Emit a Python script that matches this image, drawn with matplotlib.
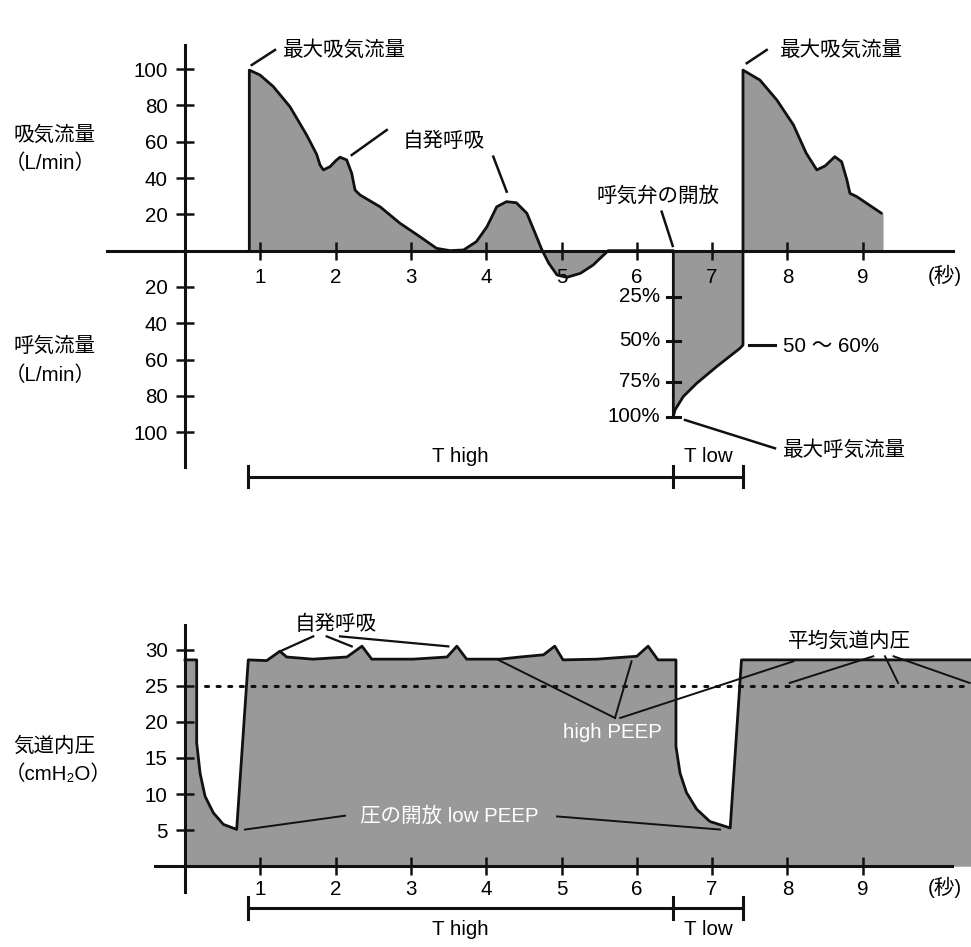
import matplotlib
matplotlib.use('Agg')
import matplotlib.pyplot as plt

plt.rcParams['font.family'] = ['Liberation Sans', 'Noto Sans CJK JP', 'DejaVu Sans']

FS = 14.8
GRAY = '#999999'
INK = '#111111'

# ---- upper chart: flow (L/min) against time (s); expiration is negative
flow_t = [0.854, 0.854, 0.996, 1.173, 1.394, 1.616, 1.749, 1.793, 1.837, 1.926, 2.00, 2.058,
          2.147, 2.214, 2.258, 2.324, 2.59, 2.855, 3.12, 3.34, 3.52, 3.70, 3.87, 4.01, 4.14,
          4.27, 4.40, 4.54, 4.65, 4.74, 4.83, 4.94, 5.07, 5.25, 5.42, 5.62, 6.485,
          6.485, 6.507, 6.617, 6.795, 7.06, 7.37, 7.41,
          7.41, 7.635, 7.86, 8.08, 8.25, 8.39, 8.50, 8.63, 8.72, 8.79, 8.83, 8.92, 9.25]
flow_v = [0, 99.5, 96.8, 90.4, 79.3, 63.7, 53.0, 47.2, 44.5, 46.3, 49.5, 51.5,
          50.0, 42.6, 33.4, 30.7, 24.2, 15.1, 7.7, 1.3, 0.0, 0.4, 5.0, 13.2, 24.2,
          27.0, 26.4, 20.6, 9.6, 0.4, -6.9, -13.4, -14.7, -12.5, -7.9, 0, 0,
          -91.5, -87.8, -80.4, -73.1, -63.9, -53.8, -52.0,
          99.5, 94.0, 83.0, 69.3, 53.7, 44.5, 46.7, 51.8, 49.0, 39.0, 31.6, 29.8, 20.6]
flow_ticks = [100, 80, 60, 40, 20, -20, -40, -60, -80, -100]
time_ticks = [1, 2, 3, 4, 5, 6, 7, 8, 9]

# percentage scale of the expiratory flow at the valve opening
pct_labels = ['25%', '50%', '75%', '100%']
pct_flow = [-25.3, -49.6, -72.2, -91.5]
valve_open_t = 6.485

# ---- lower chart: airway pressure (cmH2O)
pres_t = [0, 0.155, 0.155, 0.20, 0.266, 0.376, 0.509, 0.686, 0.84,
          1.085, 1.26, 1.35, 1.70, 2.15, 2.35, 2.48, 3.03, 3.48, 3.61, 3.74,
          3.92, 4.18, 4.45, 4.76, 4.91, 5.02, 5.47, 6.00, 6.15, 6.28, 6.52,
          6.52, 6.574, 6.66, 6.795, 6.97, 7.24, 7.39, 10.44]
pres_v = [28.6, 28.6, 17.1, 12.9, 9.7, 7.4, 5.8, 5.1, 28.6,
          28.5, 29.8, 29.0, 28.7, 29.0, 30.5, 28.7, 28.7, 29.0, 30.5, 28.7,
          28.7, 28.7, 29.0, 29.3, 30.5, 28.6, 28.7, 29.1, 30.5, 28.6, 28.6,
          16.6, 12.9, 10.2, 7.9, 6.2, 5.3, 28.6, 28.6]
mean_pres = 25
mean_start = 0.27
pres_ticks = [30, 25, 20, 15, 10, 5]

t_high = (0.837, 6.48)
t_low = (6.48, 7.41)

fig = plt.figure(figsize=(9.71, 9.47), dpi=100)


def style_axes(ax, xb, yb, xpad, ypad):
    for s in ['top', 'right']:
        ax.spines[s].set_visible(False)
    ax.spines['left'].set_position(('data', 0))
    ax.spines['bottom'].set_position(('data', 0))
    ax.spines['left'].set_bounds(*yb)
    ax.spines['bottom'].set_bounds(*xb)
    for s in ['left', 'bottom']:
        ax.spines[s].set_linewidth(2.2)
        ax.spines[s].set_color(INK)
        ax.spines[s].set_zorder(4)
    ax.tick_params(axis='both', direction='inout', length=13, width=1.8,
                   color=INK, labelsize=FS)
    ax.tick_params(axis='x', pad=xpad)
    ax.tick_params(axis='y', pad=ypad)
    ax.set_xticks(time_ticks)
    ax.set_xticklabels([str(t) for t in time_ticks])
    ax.patch.set_alpha(0)


def bracket(ax, y, h, ylab):
    for (a, b), lab in [(t_high, 'T high'), (t_low, 'T low')]:
        ax.plot([a, b], [y, y], color=INK, lw=2.2)
        ax.text((a + b) / 2, ylab, lab, ha='center', va='center', fontsize=FS)
    for x in [t_high[0], t_high[1], t_low[1]]:
        ax.plot([x, x], [y - h, y + h], color=INK, lw=2.2)


def leader(ax, p, q, lw=1.8, color=INK):
    ax.plot([p[0], q[0]], [p[1], q[1]], color=color, lw=lw, zorder=5)


# ================= upper chart =================
ax = fig.add_axes([0, 1 - 500 / 947, 1, 470 / 947])
ax.set_xlim(-2.457, 10.438)
ax.set_ylim(-137.4, 121.6)
style_axes(ax, (-1.036, 10.2), (-119, 113.3), 6, 6)
ax.set_yticks(flow_ticks)
ax.set_yticklabels([str(abs(v)) for v in flow_ticks])

ax.fill_between(flow_t + [9.27, 9.27], flow_v + [20.6, 0], 0, color=GRAY, lw=0, zorder=1)
ax.plot(flow_t, flow_v, color=INK, lw=2.0, zorder=3,
        solid_joinstyle='round', solid_capstyle='round')

# percentage scale on the valve-opening line
for lab, v in zip(pct_labels, pct_flow):
    ax.plot([valve_open_t - 0.09, valve_open_t + 0.09], [v, v], color=INK, lw=2.2, zorder=4)
    ax.text(6.31, v, lab, ha='right', va='center', fontsize=FS)

ax.text(9.87, -13.4, '(秒)', ha='left', va='center', fontsize=FS)

ax.text(-2.284, 63.7, '吸気流量', ha='left', va='center', fontsize=FS)
ax.text(-2.40, 48.3, '（L/min）', ha='left', va='center', fontsize=FS)
ax.text(-2.284, -52.5, '呼気流量', ha='left', va='center', fontsize=FS)
ax.text(-2.40, -68.5, '（L/min）', ha='left', va='center', fontsize=FS)

ax.text(1.30, 110.6, '最大吸気流量', ha='left', va='center', fontsize=FS)
leader(ax, (0.886, 102.3), (1.195, 110.6))
ax.text(7.90, 110.6, '最大吸気流量', ha='left', va='center', fontsize=FS)
leader(ax, (7.46, 103.3), (7.725, 110.6))
ax.text(2.895, 60.1, '自発呼吸', ha='left', va='center', fontsize=FS)
leader(ax, (2.214, 52.7), (2.679, 66.5))
leader(ax, (4.094, 51.8), (4.272, 32.5))
ax.text(5.467, 29.8, '呼気弁の開放', ha='left', va='center', fontsize=FS)
leader(ax, (6.33, 21.5), (6.477, 2.6))
ax.text(7.94, -52.9, '50 ～ 60%', ha='left', va='center', fontsize=FS)
leader(ax, (7.49, -52.0), (7.835, -52.0), lw=2.2)
ax.text(7.94, -109.8, '最大呼気流量', ha='left', va='center', fontsize=FS)
leader(ax, (6.64, -93.3), (7.835, -108.9))

bracket(ax, -124.5, 5.8, -113.5)

# ================= lower chart =================
bx = fig.add_axes([0, 0, 1, 347 / 947])
bx.set_xlim(-2.457, 10.438)
bx.set_ylim(-11.2, 36.9)
style_axes(bx, (-0.4, 10.18), (-3.6, 33.5), 3.5, 6)
bx.set_yticks(pres_ticks)
bx.set_yticklabels([str(v) for v in pres_ticks])

bx.fill_between(pres_t, pres_v, 0, color=GRAY, lw=0, zorder=1)
bx.plot(pres_t, pres_v, color=INK, lw=2.0, zorder=3, solid_joinstyle='round')
bx.plot([mean_start, 10.44], [mean_pres, mean_pres], color=INK, lw=2.2,
        dashes=(1, 2.8), dash_capstyle='round', zorder=3)

bx.text(9.87, -3.0, '(秒)', ha='left', va='center', fontsize=FS)
bx.text(-2.284, 16.6, '気道内圧', ha='left', va='center', fontsize=FS)
bx.text(-2.40, 12.7, '（cmH₂O）', ha='left', va='center', fontsize=FS)

bx.text(2.0, 33.5, '自発呼吸', ha='center', va='center', fontsize=FS)
leader(bx, (1.703, 31.86), (1.262, 29.78), lw=1.6)
leader(bx, (1.881, 31.86), (2.214, 30.47), lw=1.6)
leader(bx, (2.058, 31.86), (3.497, 30.47), lw=1.6)

bx.text(8.83, 31.2, '平均気道内圧', ha='center', va='center', fontsize=FS)
leader(bx, (9.14, 29.1), (8.03, 25.4), lw=1.4)
leader(bx, (9.296, 29.1), (9.47, 25.4), lw=1.4)
leader(bx, (9.41, 29.1), (10.42, 25.4), lw=1.4)

bx.text(5.68, 18.5, 'high PEEP', ha='center', va='center', fontsize=FS, color='white', zorder=6)
leader(bx, (5.71, 20.55), (4.16, 28.6), lw=1.4)
leader(bx, (5.71, 20.55), (5.93, 28.4), lw=1.4)
leader(bx, (5.78, 20.55), (8.08, 28.4), lw=1.4)

bx.text(2.32, 6.9, '圧の開放 low PEEP', ha='left', va='center', fontsize=FS, color='white', zorder=6)
leader(bx, (0.797, 5.08), (2.125, 7.0), lw=1.4)
leader(bx, (4.94, 6.9), (7.105, 5.08), lw=1.4)

bracket(bx, -5.76, 1.55, -8.77)

fig.savefig('out.png', dpi=100)
